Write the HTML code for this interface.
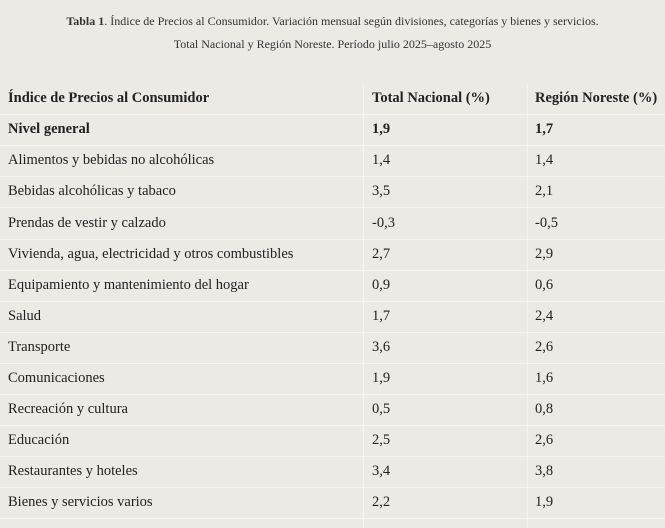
<!DOCTYPE html>
<html><head><meta charset="utf-8"><style>
html,body{margin:0;padding:0;width:665px;height:526px;background:#ede9e5;overflow:hidden;font-family:"Liberation Serif",serif;color:#222;}
.t{position:absolute;left:0;width:665px;text-align:center;font-size:12px;color:#333;}
.r{position:absolute;left:0;width:665px;height:31px;border-bottom:1px solid #f7f5f2;}
.c{position:absolute;top:0;line-height:31px;font-size:14.5px;white-space:nowrap;}
.c1{left:8px}.c2{left:372px}.c3{left:535px}
.v1{position:absolute;left:363px;top:84px;width:1px;height:444px;background:#f5f3f0}
.v2{position:absolute;left:527px;top:84px;width:1px;height:444px;background:#f5f3f0}
b{font-weight:bold}
</style></head><body>
<div class="t" style="top:14px"><b>Tabla 1</b>. Índice de Precios al Consumidor. Variación mensual según divisiones, categorías y bienes y servicios.</div>
<div class="t" style="top:37px">Total Nacional y Región Noreste. Período julio 2025–agosto 2025</div>
<div class="v1"></div><div class="v2"></div>
<div class="r" style="top:83px"><span class="c c1"><b>Índice de Precios al Consumidor</b></span><span class="c c2"><b>Total Nacional (%)</b></span><span class="c c3"><b>Región Noreste (%)</b></span></div>
<div class="r" style="top:114px"><span class="c c1"><b>Nivel general</b></span><span class="c c2"><b>1,9</b></span><span class="c c3"><b>1,7</b></span></div>
<div class="r" style="top:145px"><span class="c c1">Alimentos y bebidas no alcohólicas</span><span class="c c2">1,4</span><span class="c c3">1,4</span></div>
<div class="r" style="top:176px"><span class="c c1">Bebidas alcohólicas y tabaco</span><span class="c c2">3,5</span><span class="c c3">2,1</span></div>
<div class="r" style="top:208px"><span class="c c1">Prendas de vestir y calzado</span><span class="c c2">-0,3</span><span class="c c3">-0,5</span></div>
<div class="r" style="top:239px"><span class="c c1">Vivienda, agua, electricidad y otros combustibles</span><span class="c c2">2,7</span><span class="c c3">2,9</span></div>
<div class="r" style="top:270px"><span class="c c1">Equipamiento y mantenimiento del hogar</span><span class="c c2">0,9</span><span class="c c3">0,6</span></div>
<div class="r" style="top:301px"><span class="c c1">Salud</span><span class="c c2">1,7</span><span class="c c3">2,4</span></div>
<div class="r" style="top:332px"><span class="c c1">Transporte</span><span class="c c2">3,6</span><span class="c c3">2,6</span></div>
<div class="r" style="top:363px"><span class="c c1">Comunicaciones</span><span class="c c2">1,9</span><span class="c c3">1,6</span></div>
<div class="r" style="top:394px"><span class="c c1">Recreación y cultura</span><span class="c c2">0,5</span><span class="c c3">0,8</span></div>
<div class="r" style="top:425px"><span class="c c1">Educación</span><span class="c c2">2,5</span><span class="c c3">2,6</span></div>
<div class="r" style="top:456px"><span class="c c1">Restaurantes y hoteles</span><span class="c c2">3,4</span><span class="c c3">3,8</span></div>
<div class="r" style="top:487px"><span class="c c1">Bienes y servicios varios</span><span class="c c2">2,2</span><span class="c c3">1,9</span></div>
</body></html>
